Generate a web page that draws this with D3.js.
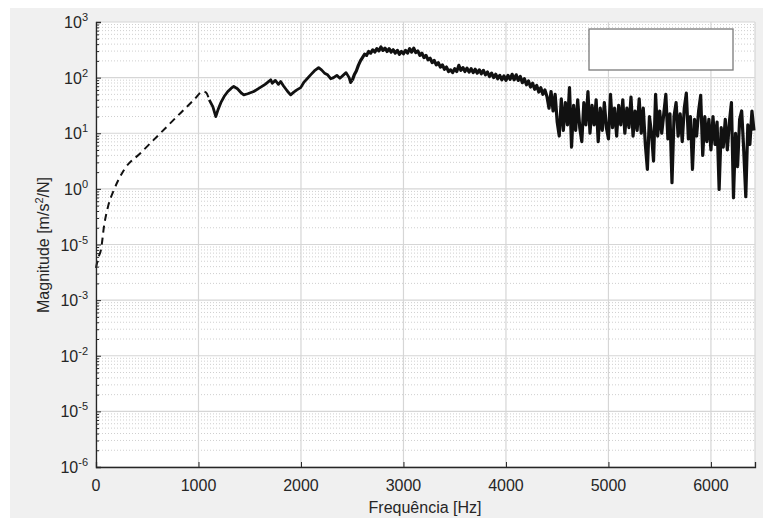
<!DOCTYPE html>
<html>
<head>
<meta charset="utf-8">
<script src="https://cdn.jsdelivr.net/npm/d3@7"></script>
<style>
  body { margin: 0; background: #fff; }
  text { font-family: "Liberation Sans", Arial, sans-serif; fill: #262626; }
</style>
</head>
<body>
<svg width="763" height="518"></svg>
<script>
// x tick labels (Hz)
var xTicks = [0, 1000, 2000, 3000, 4000, 5000, 6000];
// y decades and the exponent text shown next to each one
var yDecades = [1e3, 1e2, 1e1, 1e0, 1e-1, 1e-2, 1e-3, 1e-4, 1e-5];
var yExpLabels = ["3", "2", "1", "0", "-5", "-3", "-2", "-5", "-6"];

// dashed part (log10 of magnitude)
var dashFreq = [0, 20, 49, 80, 117, 175, 273, 438, 633, 828, 955, 1042, 1075, 1105];
var dashLog  = [-1.42, -1.25, -1.09, -0.65, -0.32, -0.02, 0.34, 0.65, 1.01, 1.37, 1.60, 1.75, 1.73, 1.60];

// solid part, low frequency
var solidFreq = [1105, 1140, 1169, 1190, 1218, 1250, 1286, 1320, 1344, 1380, 1420, 1442, 1480, 1539, 1600, 1650,
  1705, 1720, 1750, 1780, 1802, 1830, 1870, 1899, 1930, 1960, 1997, 2030, 2060, 2094, 2130, 2172, 2200,
  2230, 2260, 2290, 2318, 2350, 2380, 2416, 2440, 2470, 2484, 2500];
var solidLog = [1.60, 1.48, 1.30, 1.42, 1.55, 1.66, 1.75, 1.81, 1.84, 1.80, 1.72, 1.69, 1.71, 1.75, 1.82, 1.88,
  1.96, 1.90, 1.95, 1.88, 1.93, 1.85, 1.75, 1.69, 1.74, 1.78, 1.82, 1.92, 1.98, 2.05, 2.12, 2.18, 2.14,
  2.08, 2.05, 1.98, 2.00, 2.04, 1.99, 2.05, 2.09, 2.00, 1.91, 1.95];

// noisy part, sampled every 20 Hz from 2500 Hz
var noiseStart = 2500, noiseStep = 20;
var noiseLog = [
  1.95, 2.05, 2.12, 2.22, 2.30, 2.36, 2.42, 2.40, 2.47, 2.44,
  2.50, 2.46, 2.52, 2.48, 2.55, 2.49, 2.53, 2.47, 2.52, 2.46,
  2.50, 2.44, 2.49, 2.42, 2.47, 2.43, 2.49, 2.44, 2.52, 2.46,
  2.53, 2.45, 2.48, 2.40, 2.44, 2.36, 2.40, 2.32, 2.35, 2.27,
  2.31, 2.23, 2.27, 2.19, 2.23, 2.15, 2.19, 2.11, 2.14, 2.09,
  2.16, 2.11, 2.22, 2.13, 2.18, 2.11, 2.17, 2.10, 2.16, 2.09,
  2.15, 2.08, 2.14, 2.07, 2.13, 2.05, 2.10, 2.02, 2.08, 2.00,
  2.06, 1.98, 2.04, 1.96, 2.03, 1.95, 2.04, 1.97, 2.06, 1.96,
  2.05, 1.95, 2.02, 1.91, 1.98, 1.87, 1.94, 1.83, 1.90, 1.79,
  1.86, 1.74, 1.82, 1.70, 1.78, 1.66,
  1.45, 1.75, 1.40, 1.70, 1.20, 0.95, 1.62, 1.05, 1.55, 1.15,
  1.82, 0.75, 1.50, 1.05, 1.60, 1.10, 0.85, 1.55, 1.15, 1.75,
  1.00, 1.50, 1.15, 1.60, 0.85, 1.45, 1.05, 1.55, 1.10, 0.90,
  1.70, 1.10, 1.45, 0.95, 1.50, 1.15, 1.60, 1.00, 1.45, 1.10,
  1.65, 0.95, 1.40, 1.05, 1.62, 1.00, 1.45, 0.80, 0.35, 1.30,
  1.00, 0.50, 1.70, 0.95, 1.40, 1.00, 1.35, 1.70, 0.90, 1.35,
  0.11, 1.30, 1.55, 0.95, 1.35, 0.85, 1.45, 1.72, 0.90, 1.30,
  0.35, 1.25, 0.95, 1.40, 1.68, 0.60, 1.30, 0.85, 1.25, 0.70,
  1.30, 0.80, 1.20, -0.01, 1.10, 0.75, 1.25, 0.70, 1.20, 1.55,
  -0.16, 1.00, 0.40, 1.25, 1.40, 0.70, -0.14, 1.15, 0.80, 1.40,
  1.05
];

var svg = d3.select("svg");
var margin = {top: 22, right: 8, bottom: 51, left: 96};
var W = 763, H = 518;

// grey figure background
svg.append("rect").attr("x", 10).attr("y", 8).attr("width", W - 10).attr("height", H - 8).attr("fill", "#f0f0f0");

var x = d3.scaleLinear().domain([0, 6430]).range([margin.left, W - margin.right]);
var y = d3.scaleLog().domain([1e-5, 1e3]).range([H - margin.bottom, margin.top]);

svg.append("rect")
  .attr("x", margin.left).attr("y", margin.top)
  .attr("width", W - margin.right - margin.left).attr("height", H - margin.bottom - margin.top)
  .attr("fill", "#fff");

// minor values between decades
var minors = [];
yDecades.forEach(function(d) {
  if (d < 1e3) for (var k = 2; k <= 9; k++) minors.push(d * k);
});

var grid = svg.append("g");
grid.selectAll(".ymin").data(minors).enter().append("line")
  .attr("x1", margin.left).attr("x2", W - margin.right)
  .attr("y1", function(d) { return y(d); }).attr("y2", function(d) { return y(d); })
  .attr("stroke", "#cfcfcf").attr("stroke-width", 1).attr("stroke-dasharray", "1,2");
grid.selectAll(".ymaj").data(yDecades).enter().append("line")
  .attr("x1", margin.left).attr("x2", W - margin.right)
  .attr("y1", function(d) { return y(d); }).attr("y2", function(d) { return y(d); })
  .attr("stroke", "#d6d6d6").attr("stroke-width", 1.2);
grid.selectAll(".xmaj").data(xTicks.concat([6430])).enter().append("line")
  .attr("y1", margin.top).attr("y2", H - margin.bottom)
  .attr("x1", function(d) { return x(d); }).attr("x2", function(d) { return x(d); })
  .attr("stroke", "#d6d6d6").attr("stroke-width", 1.2);

// legend box (empty)
svg.append("rect").attr("x", 589).attr("y", 29).attr("width", 144).attr("height", 41)
  .attr("fill", "#fff").attr("stroke", "#7a7a7a").attr("stroke-width", 1.3);

// curves
var line = d3.line()
  .x(function(d) { return x(d[0]); })
  .y(function(d) { return y(d[1]); });

var dashData = dashFreq.map(function(f, i) { return [f, Math.pow(10, dashLog[i])]; });
var solidData = solidFreq.map(function(f, i) { return [f, Math.pow(10, solidLog[i])]; });
var noiseData = noiseLog.map(function(v, i) { return [noiseStart + i * noiseStep, Math.pow(10, v)]; });

svg.append("path").datum(dashData).attr("d", line.curve(d3.curveMonotoneX))
  .attr("fill", "none").attr("stroke", "#111").attr("stroke-width", 2).attr("stroke-dasharray", "7,5");
svg.append("path").datum(solidData).attr("d", line.curve(d3.curveLinear))
  .attr("fill", "none").attr("stroke", "#111").attr("stroke-width", 2.8).attr("stroke-linejoin", "round");
svg.append("path").datum(noiseData).attr("d", line.curve(d3.curveLinear))
  .attr("fill", "none").attr("stroke", "#111").attr("stroke-width", 3.2).attr("stroke-linejoin", "round");

// axes
var yAxis = svg.append("g").attr("transform", "translate(" + margin.left + ",0)")
  .call(d3.axisRight(y).tickValues(yDecades).tickSize(5).tickFormat(""));
yAxis.select(".domain").attr("stroke", "#262626").attr("stroke-width", 1.3);
yAxis.selectAll("line").attr("stroke", "#262626");
var yMinor = svg.append("g").attr("transform", "translate(" + margin.left + ",0)")
  .call(d3.axisRight(y).tickValues(minors).tickSize(3).tickFormat(""));
yMinor.select(".domain").remove();
yMinor.selectAll("line").attr("stroke", "#262626");

yDecades.forEach(function(d, i) {
  var t = svg.append("text").attr("x", 88).attr("y", y(d) + 6).attr("text-anchor", "end")
    .style("font-size", "16px");
  t.append("tspan").text("10");
  t.append("tspan").attr("dy", -7).style("font-size", "11px").text(yExpLabels[i]);
});

var xAxis = svg.append("g").attr("transform", "translate(0," + (H - margin.bottom) + ")")
  .call(d3.axisTop(x).tickValues(xTicks).tickSize(5).tickFormat(""));
xAxis.select(".domain").attr("stroke", "#262626").attr("stroke-width", 1.3);
xAxis.selectAll("line").attr("stroke", "#262626");

svg.selectAll(".xlab").data(xTicks).enter().append("text")
  .attr("x", function(d) { return x(d); }).attr("y", H - margin.bottom + 24)
  .attr("text-anchor", "middle").style("font-size", "16px")
  .text(function(d) { return d; });

svg.append("text").attr("x", 425).attr("y", 513).attr("text-anchor", "middle")
  .style("font-size", "16px").text("Frequência [Hz]");

var yl = svg.append("text").attr("transform", "translate(49,245) rotate(-90)")
  .attr("text-anchor", "middle").style("font-size", "16px");
yl.append("tspan").text("Magnitude [m/s");
yl.append("tspan").attr("dy", -6).style("font-size", "11px").text("2");
yl.append("tspan").attr("dy", 6).text("/N]");
</script>
</body>
</html>
